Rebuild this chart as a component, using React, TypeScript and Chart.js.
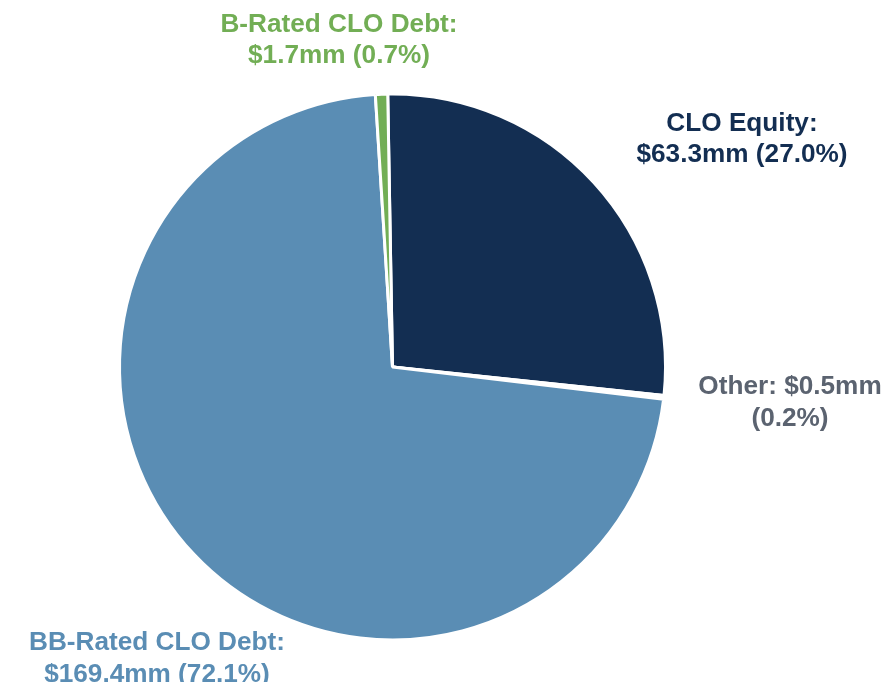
import React, { useEffect, useRef } from "react";
import { Chart, registerables } from "chart.js";

Chart.register(...registerables);

const categories = ["CLO Equity", "Other", "BB-Rated CLO Debt", "B-Rated CLO Debt"];
const valuesMm = [63.3, 0.5, 169.4, 1.7];
const percents = ["27.0%", "0.2%", "72.1%", "0.7%"];
const labelLines = [
  ["CLO Equity:", "$63.3mm (27.0%)"],
  ["Other: $0.5mm", "(0.2%)"],
  ["BB-Rated CLO Debt:", "$169.4mm (72.1%)"],
  ["B-Rated CLO Debt:", "$1.7mm (0.7%)"],
];
const sliceColors = ["#132E52", "#FFFFFF", "#5A8DB4", "#72AE55"];
const labelColors = ["#132E52", "#5B6370", "#5A8DB4", "#72AE55"];
// label anchor layout (center x, first baseline y)
const labelPos = [
  [742, 130.5],
  [790, 394],
  [157, 650],
  [339, 31.5],
];

const labelPlugin = {
  id: "sliceLabels",
  afterDraw(chart: any) {
    const ctx = chart.ctx;
    ctx.save();
    ctx.font = "bold 26.2px 'Liberation Sans', Arial, sans-serif";
    ctx.textAlign = "center";
    ctx.textBaseline = "alphabetic";
    labelLines.forEach((lines, i) => {
      ctx.fillStyle = labelColors[i];
      lines.forEach((t, j) => {
        ctx.fillText(t, labelPos[i][0], labelPos[i][1] + j * 31.5);
      });
    });
    ctx.restore();
  },
};

export default function App() {
  const ref = useRef<HTMLCanvasElement>(null);
  useEffect(() => {
    const chart = new Chart(ref.current!, {
      type: "pie",
      data: {
        labels: categories,
        datasets: [
          {
            data: valuesMm,
            backgroundColor: sliceColors,
            borderColor: "#FFFFFF",
            borderWidth: 3,
          },
        ],
      },
      options: {
        responsive: false,
        animation: false,
        rotation: -1,
        layout: { padding: { left: 118, right: 219, top: 92, bottom: 40 } },
        plugins: {
          legend: { display: false },
          tooltip: { enabled: false },
        },
      },
      plugins: [labelPlugin],
    });
    return () => chart.destroy();
  }, []);
  return (
    <div style={{ position: "fixed", left: 0, top: 0, width: 886, height: 682, background: "#fff" }}>
      <canvas ref={ref} width={886} height={682} />
    </div>
  );
}
